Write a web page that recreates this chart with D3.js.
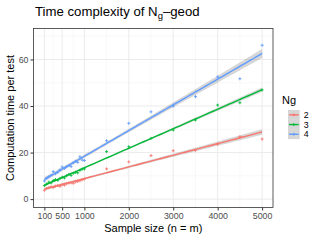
<!DOCTYPE html>
<html>
<head>
<meta charset="utf-8">
<script src="https://cdn.jsdelivr.net/npm/d3@7"></script>
<style>
  body { margin: 0; background: #fff; }
  svg { display: block; font-family: "Liberation Sans", Arial, sans-serif; }
</style>
</head>
<body>
<div id="chart"></div>
<script>
const width = 320, height = 240;
const margin = { top: 28.5, right: 47, bottom: 32.5, left: 33.5 };

// sample sizes (n = m)
const sampleSizes = [100, 150, 200, 250, 300, 350, 400, 450, 500, 550, 600, 650, 700, 750,
  800, 850, 900, 950, 1000, 1500, 2000, 2500, 3000, 3500, 4000, 4500, 5000];

// computation time per test, one array per Ng
const timeNg2 = [3.8, 4.6, 4.9, 5.3, 5.0, 5.6, 5.8, 5.5, 6.2, 6.0, 6.6, 6.9, 7.0, 6.8,
  7.4, 7.6, 7.9, 8.3, 8.6, 13.0, 16.0, 18.7, 20.8, 21.0, 23.6, 26.8, 25.8];
const timeNg3 = [5.8, 6.5, 7.3, 7.0, 8.0, 8.4, 8.1, 8.9, 9.4, 9.1, 10.0, 10.6, 10.2, 11.1,
  11.5, 11.3, 12.4, 12.9, 13.0, 20.4, 22.5, 26.1, 29.7, 34.0, 40.4, 41.4, 46.9];
const timeNg4 = [7.8, 9.0, 9.6, 10.2, 11.8, 10.9, 11.5, 12.6, 13.8, 13.2, 13.9, 14.4, 14.0, 15.6,
  16.3, 15.8, 18.2, 16.8, 16.6, 25.1, 32.6, 37.5, 40.0, 44.0, 52.5, 51.7, 66.1];

const groups = ["2", "3", "4"];
const groupColors = ["#F8766D", "#00BA38", "#619CFF"];
const groupTimes = [timeNg2, timeNg3, timeNg4];

const xTicks = [100, 500, 1000, 2000, 3000, 4000, 5000];
const xMinor = [300, 750, 1500, 2500, 3500, 4500];
const yTicks = [0, 20, 40, 60];
const yMinor = [10, 30, 50, 70];

const x = d3.scaleLinear().domain([-145, 5245]).range([margin.left, width - margin.right]);
const y = d3.scaleLinear().domain([-3.6, 73.3]).range([height - margin.bottom, margin.top]);

const svg = d3.select("#chart").append("svg")
  .attr("width", width).attr("height", height);

// grid
const grid = svg.append("g");
grid.selectAll(".ymin").data(yMinor).join("line")
  .attr("x1", margin.left).attr("x2", width - margin.right)
  .attr("y1", d => y(d)).attr("y2", d => y(d))
  .attr("stroke", "#F3F3F3").attr("stroke-width", 0.6);
grid.selectAll(".xmin").data(xMinor).join("line")
  .attr("y1", margin.top).attr("y2", height - margin.bottom)
  .attr("x1", d => x(d)).attr("x2", d => x(d))
  .attr("stroke", "#F3F3F3").attr("stroke-width", 0.6);
grid.selectAll(".ymaj").data(yTicks).join("line")
  .attr("x1", margin.left).attr("x2", width - margin.right)
  .attr("y1", d => y(d)).attr("y2", d => y(d))
  .attr("stroke", "#EBEBEB").attr("stroke-width", 1);
grid.selectAll(".xmaj").data(xTicks).join("line")
  .attr("y1", margin.top).attr("y2", height - margin.bottom)
  .attr("x1", d => x(d)).attr("x2", d => x(d))
  .attr("stroke", "#EBEBEB").attr("stroke-width", 1);

// linear fit with 95% band (like geom_smooth(method = "lm"))
function fitLine(xs, ys) {
  const n = xs.length;
  const mx = d3.mean(xs), my = d3.mean(ys);
  let sxx = 0, sxy = 0;
  xs.forEach((v, i) => { sxx += (v - mx) ** 2; sxy += (v - mx) * (ys[i] - my); });
  const b = sxy / sxx, a = my - b * mx;
  let sse = 0;
  xs.forEach((v, i) => { sse += (ys[i] - a - b * v) ** 2; });
  const s = Math.sqrt(sse / (n - 2));
  const t = 2.06;
  const lo = d3.min(xs), hi = d3.max(xs);
  return d3.range(80).map(k => {
    const xv = lo + (hi - lo) * k / 79;
    const fit = a + b * xv;
    const se = s * Math.sqrt(1 / n + (xv - mx) ** 2 / sxx);
    return { x: xv, fit: fit, lo: fit - t * se, hi: fit + t * se };
  });
}

const fits = groupTimes.map(ts => fitLine(sampleSizes, ts));

const area = d3.area().x(d => x(d.x)).y0(d => y(d.lo)).y1(d => y(d.hi));
const line = d3.line().x(d => x(d.x)).y(d => y(d.fit));

groups.forEach((g, i) => {
  svg.append("path").datum(fits[i])
    .attr("d", area).attr("fill", "#999999").attr("fill-opacity", 0.4);
});
groups.forEach((g, i) => {
  svg.append("path").datum(fits[i])
    .attr("d", line).attr("fill", "none")
    .attr("stroke", groupColors[i]).attr("stroke-width", 1.4);
});

// points as small crosses
const cross = (sel, color) => sel
  .attr("d", "M-1.5,0H1.5M0,-1.5V1.5")
  .attr("stroke", color).attr("stroke-width", 0.9).attr("fill", "none");

groups.forEach((g, i) => {
  svg.append("g").selectAll("path")
    .data(sampleSizes.map((s, j) => ({ s: s, t: groupTimes[i][j] })))
    .join("path")
    .attr("transform", d => `translate(${x(d.s)},${y(d.t)})`)
    .call(cross, groupColors[i]);
});

// panel border
svg.append("rect")
  .attr("x", margin.left).attr("y", margin.top)
  .attr("width", width - margin.left - margin.right)
  .attr("height", height - margin.top - margin.bottom)
  .attr("fill", "none").attr("stroke", "#333").attr("stroke-width", 0.8);

// axes
const xAxis = svg.append("g")
  .attr("transform", `translate(0,${height - margin.bottom})`)
  .call(d3.axisBottom(x).tickValues(xTicks).tickSize(3).tickPadding(2).tickFormat(d3.format("d")));
const yAxis = svg.append("g")
  .attr("transform", `translate(${margin.left},0)`)
  .call(d3.axisLeft(y).tickValues(yTicks).tickSize(3).tickPadding(2));
[xAxis, yAxis].forEach(ax => {
  ax.select(".domain").remove();
  ax.selectAll(".tick line").attr("stroke", "#333");
  ax.selectAll(".tick text").attr("fill", "#4D4D4D")
    .style("font-size", "8.8px").style("font-family", "Liberation Sans, Arial, sans-serif");
});

// titles
const title = svg.append("text").attr("x", 35).attr("y", 16)
  .style("font-size", "13.2px").attr("fill", "#000");
title.append("tspan").text("Time complexity of N");
title.append("tspan").text("g").attr("dy", 3).style("font-size", "9.5px");
title.append("tspan").text("\u2013geod").attr("dy", -3);

svg.append("text")
  .attr("x", (margin.left + width - margin.right) / 2).attr("y", 232)
  .attr("text-anchor", "middle").style("font-size", "11px")
  .text("Sample size (n = m)");

svg.append("text")
  .attr("transform", `translate(14,${(margin.top + height - margin.bottom) / 2}) rotate(-90)`)
  .attr("text-anchor", "middle").style("font-size", "11px")
  .text("Computation time per test");

// legend
const legend = svg.append("g").attr("transform", "translate(288,110)");
legend.append("text").attr("x", -6).attr("y", -6).style("font-size", "11px").text("Ng");
const keyH = 9.7, keyW = 11.7;
groups.forEach((g, i) => {
  const k = legend.append("g").attr("transform", `translate(0,${i * keyH})`);
  k.append("rect").attr("width", keyW).attr("height", keyH)
    .attr("fill", "#999999").attr("fill-opacity", 0.4);
  k.append("line").attr("x1", 1).attr("x2", keyW - 1)
    .attr("y1", keyH / 2).attr("y2", keyH / 2)
    .attr("stroke", groupColors[i]).attr("stroke-width", 1.4);
  k.append("path").attr("transform", `translate(${keyW / 2},${keyH / 2})`).call(cross, groupColors[i]);
  k.append("text").attr("x", keyW + 4).attr("y", keyH / 2 + 3.2)
    .style("font-size", "8.8px").attr("fill", "#000").text(g);
});
</script>
</body>
</html>
